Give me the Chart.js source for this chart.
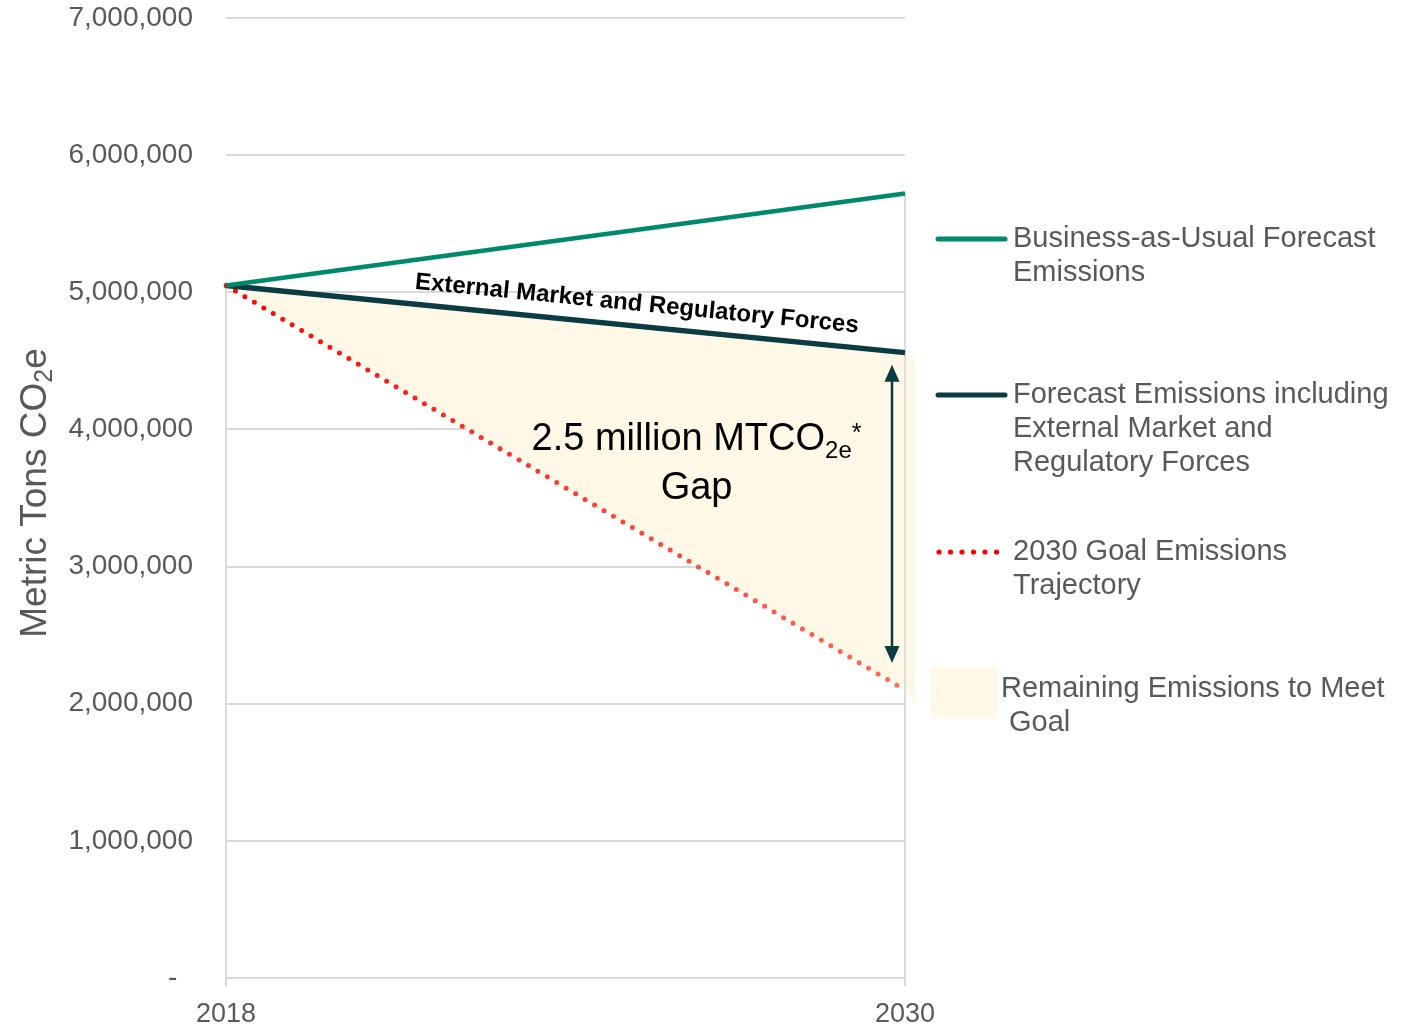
<!DOCTYPE html>
<html>
<head>
<meta charset="utf-8">
<script src="https://cdn.jsdelivr.net/npm/chart.js@4/dist/chart.umd.min.js"></script>
<style>
html,body{margin:0;padding:0;background:#fff;}
#wrap{width:1411px;height:1027px;}
</style>
</head>
<body>
<div id="wrap"><canvas id="gapChart" width="1411" height="1027"></canvas></div>
<script>
// ========================================
// Data
// ========================================

const years = ["2018", "2030"];

const bauEmissions = [5050000, 5720000];
const forecastEmissions = [5050000, 4560000];
const goalEmissions = [5050000, 2100000];

const yMin = 0;
const yMax = 7000000;
const yStep = 1000000;

const legendLabels = [
  ["Business-as-Usual Forecast", "Emissions"],
  ["Forecast Emissions including", "External Market and", "Regulatory Forces"],
  ["2030 Goal Emissions", "Trajectory"],
  ["Remaining Emissions to Meet", " Goal"]
];

const forcesLabel = "External Market and Regulatory Forces";

// ========================================
// Colours / fonts
// ========================================

const FONT = "'Liberation Sans', Arial, sans-serif";
const GREY_TEXT = "#595959";
const GRID = "#d9d9d9";
const GREEN = "#00896a";
const DARK = "#0b3b43";
const CREAM = "#fff8e7";

Chart.defaults.font.family = FONT;
Chart.defaults.color = GREY_TEXT;

// red -> salmon along the goal line
function goalGradient(ctx) {
  const area = ctx.chart.chartArea;
  if (!area) return "#ff0000";
  const g = ctx.chart.ctx.createLinearGradient(area.left, 0, area.right, 0);
  g.addColorStop(0, "#ff0000");
  g.addColorStop(0.5, "#ff3b30");
  g.addColorStop(1, "#ff6a58");
  return g;
}

// ========================================
// Extra drawing: drop lines, arrow, labels, legend
// ========================================

function drawRuns(ctx, x, y, runs) {
  // runs: [{text, size, dy}] drawn left to right from x on baseline y
  let cx = x;
  runs.forEach(r => {
    ctx.font = r.size + "px " + FONT;
    ctx.fillText(r.text, cx, y + (r.dy || 0));
    cx += ctx.measureText(r.text).width;
  });
}

function runsWidth(ctx, runs) {
  let w = 0;
  runs.forEach(r => {
    ctx.font = r.size + "px " + FONT;
    w += ctx.measureText(r.text).width;
  });
  return w;
}

const gapDecor = {
  id: "gapDecor",

  beforeDatasetsDraw(chart) {
    const { ctx, scales: { x, y } } = chart;
    ctx.save();

    // small spill of the gap fill past the 2030 line
    const xe = x.getPixelForValue(1);
    ctx.fillStyle = CREAM;
    ctx.beginPath();
    ctx.moveTo(xe, y.getPixelForValue(forecastEmissions[1]) + 2);
    ctx.lineTo(xe + 10, y.getPixelForValue(forecastEmissions[1]) + 3);
    ctx.lineTo(xe + 10, y.getPixelForValue(goalEmissions[1]) + 14);
    ctx.lineTo(xe, y.getPixelForValue(goalEmissions[1]));
    ctx.closePath();
    ctx.fill();

    // drop lines from the highest series down to zero
    ctx.strokeStyle = "#dcdcd8";
    ctx.lineWidth = 2;
    years.forEach((yr, i) => {
      const top = Math.max(bauEmissions[i], forecastEmissions[i], goalEmissions[i]);
      const px = x.getPixelForValue(i);
      ctx.beginPath();
      ctx.moveTo(px, y.getPixelForValue(top));
      ctx.lineTo(px, y.getPixelForValue(0));
      ctx.stroke();
    });
    ctx.restore();
  },

  afterDatasetsDraw(chart) {
    const { ctx, scales: { x, y } } = chart;
    ctx.save();

    // label along the forecast line
    const x0 = x.getPixelForValue(0), x1 = x.getPixelForValue(1);
    const y0 = y.getPixelForValue(forecastEmissions[0]);
    const y1 = y.getPixelForValue(forecastEmissions[1]);
    const ang = Math.atan2(y1 - y0, x1 - x0);
    const t = 0.602;
    ctx.translate(x0 + t * (x1 - x0), y0 + t * (y1 - y0));
    ctx.rotate(ang);
    ctx.fillStyle = "#000";
    ctx.font = "bold 24px " + FONT;
    ctx.textAlign = "center";
    ctx.textBaseline = "middle";
    ctx.fillText(forcesLabel, 0, -22);
    ctx.setTransform(1, 0, 0, 1, 0, 0);

    // double arrow across the 2030 gap
    const ax = x1 - 13;
    const aTop = y1 + 12;
    const aBot = y.getPixelForValue(goalEmissions[1]) - 27;
    ctx.strokeStyle = DARK;
    ctx.fillStyle = DARK;
    ctx.lineWidth = 2.5;
    ctx.beginPath();
    ctx.moveTo(ax, aTop + 14);
    ctx.lineTo(ax, aBot - 14);
    ctx.stroke();
    ctx.beginPath();
    ctx.moveTo(ax, aTop);
    ctx.lineTo(ax - 7.5, aTop + 17);
    ctx.lineTo(ax + 7.5, aTop + 17);
    ctx.closePath();
    ctx.fill();
    ctx.beginPath();
    ctx.moveTo(ax, aBot);
    ctx.lineTo(ax - 7.5, aBot - 17);
    ctx.lineTo(ax + 7.5, aBot - 17);
    ctx.closePath();
    ctx.fill();

    // gap text
    const gapM = (forecastEmissions[1] - goalEmissions[1]) / 1e6;
    const cx = chart.chartArea.left + 0.693 * (chart.chartArea.right - chart.chartArea.left);
    const runs = [
      { text: gapM.toFixed(1) + " million MTCO", size: 38 },
      { text: "2e", size: 24, dy: 8 },
      { text: "*", size: 25, dy: -9 }
    ];
    ctx.fillStyle = "#000";
    ctx.textAlign = "left";
    ctx.textBaseline = "alphabetic";
    drawRuns(ctx, cx - runsWidth(ctx, runs) / 2, 450, runs);
    ctx.font = "38px " + FONT;
    ctx.textAlign = "center";
    ctx.fillText("Gap", cx, 499);

    ctx.restore();
  },

  afterDraw(chart) {
    const { ctx } = chart;
    ctx.save();

    // y axis title with subscript
    ctx.translate(33, 493);
    ctx.rotate(-Math.PI / 2);
    ctx.fillStyle = GREY_TEXT;
    ctx.textAlign = "left";
    ctx.textBaseline = "alphabetic";
    const title = [
      { text: "Metric Tons CO", size: 37 },
      { text: "2", size: 25, dy: 6 },
      { text: "e", size: 37 }
    ];
    drawRuns(ctx, -runsWidth(ctx, title) / 2, 13, title);
    ctx.setTransform(1, 0, 0, 1, 0, 0);

    // legend
    const lx0 = 938, lx1 = 1005, tx = 1013, lh = 34;
    const rows = [239, 395, 552, 689];
    ctx.lineCap = "round";

    ctx.strokeStyle = GREEN;
    ctx.lineWidth = 5;
    ctx.beginPath(); ctx.moveTo(lx0, rows[0]); ctx.lineTo(lx1, rows[0]); ctx.stroke();

    ctx.strokeStyle = DARK;
    ctx.beginPath(); ctx.moveTo(lx0, rows[1]); ctx.lineTo(lx1, rows[1]); ctx.stroke();

    ctx.fillStyle = "#ff0000";
    for (let i = 0; i < 6; i++) {
      ctx.beginPath();
      ctx.arc(lx0 + 1 + i * 11.5, rows[2], 2.6, 0, Math.PI * 2);
      ctx.fill();
    }

    ctx.fillStyle = CREAM;
    ctx.fillRect(931, 667, 66, 51);

    ctx.fillStyle = GREY_TEXT;
    ctx.font = "29px " + FONT;
    ctx.textAlign = "left";
    ctx.textBaseline = "middle";
    legendLabels.forEach((lines, i) => {
      const x = i === 3 ? 1001 : tx;
      lines.forEach((ln, j) => ctx.fillText(ln, x, rows[i] + j * lh));
    });

    ctx.restore();
  }
};

// ========================================
// Chart
// ========================================

new Chart(document.getElementById("gapChart"), {
  type: "line",
  data: {
    labels: years,
    datasets: [
      {
        label: legendLabels[0].join(" "),
        data: bauEmissions,
        borderColor: GREEN,
        borderWidth: 4.5,
        pointRadius: 0,
        fill: false
      },
      {
        label: legendLabels[1].join(" "),
        data: forecastEmissions,
        borderColor: DARK,
        borderWidth: 5.5,
        pointRadius: 0,
        fill: "+1",
        backgroundColor: CREAM
      },
      {
        label: legendLabels[2].join(" "),
        data: goalEmissions,
        borderColor: goalGradient,
        borderWidth: 5,
        borderDash: [0, 11],
        borderCapStyle: "round",
        pointRadius: 0,
        fill: false
      }
    ]
  },
  options: {
    responsive: false,
    animation: false,
    devicePixelRatio: 1,
    layout: { padding: { top: 18, right: 506, bottom: 0, left: 0 } },
    plugins: {
      legend: { display: false },
      tooltip: { enabled: false },
      filler: { drawTime: "beforeDatasetsDraw" }
    },
    scales: {
      x: {
        type: "category",
        offset: false,
        grid: { drawOnChartArea: false, drawTicks: true, tickLength: 8, color: GRID, lineWidth: 2 },
        border: { display: true, color: GRID, width: 2 },
        ticks: { color: GREY_TEXT, font: { size: 27 }, padding: 12, maxRotation: 0 },
        afterFit(s) { s.height = 49; }
      },
      y: {
        min: yMin,
        max: yMax,
        ticks: {
          stepSize: yStep,
          color: GREY_TEXT,
          font: { size: 28 },
          padding: 33,
          callback: v => v === 0 ? "-  " : v.toLocaleString("en-US")
        },
        grid: { color: GRID, lineWidth: 2, drawTicks: false },
        border: { display: false },
        afterFit(s) {
          s.width = 226;
          s.paddingTop = 0;
          s.paddingBottom = 0;
        }
      }
    }
  },
  plugins: [gapDecor]
});
</script>
</body>
</html>
